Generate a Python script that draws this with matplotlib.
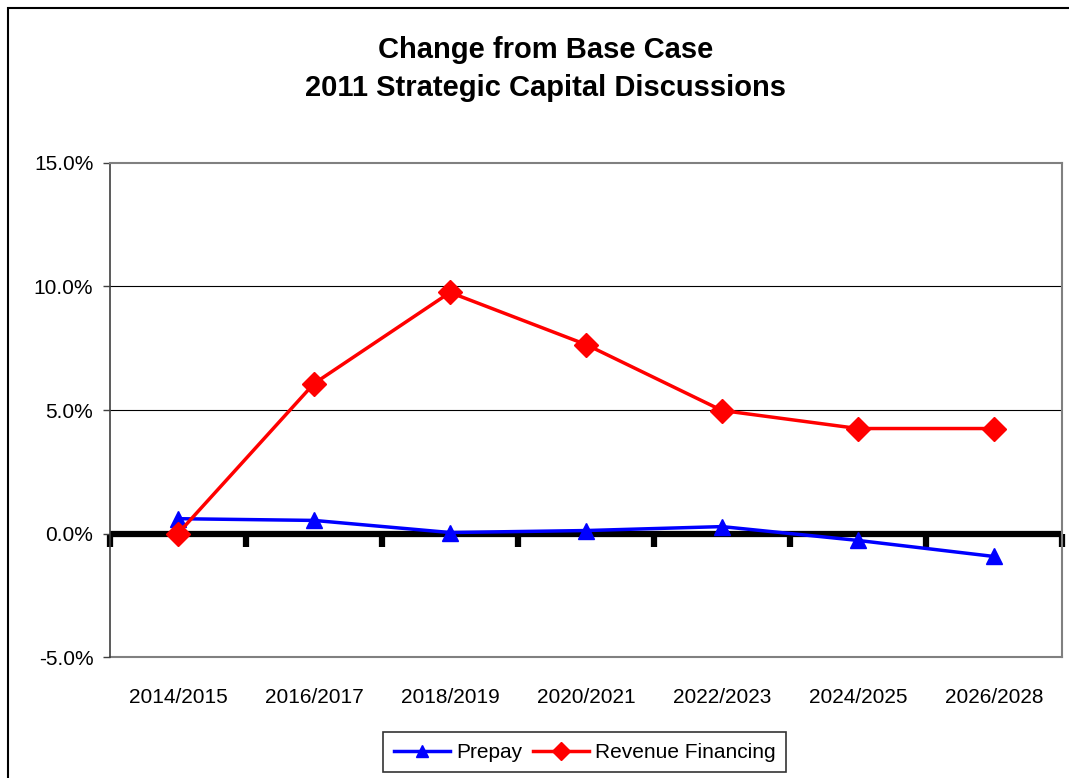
import matplotlib
matplotlib.use('Agg')
import matplotlib.pyplot as plt
from matplotlib.patches import Rectangle
from matplotlib.ticker import FuncFormatter

plt.rcParams['font.family'] = ['Liberation Sans', 'DejaVu Sans']

periodes = ['2014/2015', '2016/2017', '2018/2019', '2020/2021',
            '2022/2023', '2024/2025', '2026/2028']
prepay = [0.60, 0.53, 0.04, 0.12, 0.28, -0.28, -0.93]
revenue_financing = [0.0, 6.07, 9.76, 7.65, 4.98, 4.25, 4.25]

fig = plt.figure(figsize=(10.69, 7.78), dpi=100)
ax = fig.add_axes([0.1029, 0.1555, 0.8906, 0.635])

# cadre exterieur du graphique
fig.patches.append(Rectangle((0.0075, -0.1), 1.2, 1.0897, transform=fig.transFigure,
                             fill=False, edgecolor='black', linewidth=1.5))

x = list(range(len(periodes)))

for y in [5, 10]:
    ax.axhline(y, color='black', linewidth=0.8, zorder=1)
ax.axhline(0, color='black', linewidth=4.5, zorder=2)

ax.plot(x, prepay, color='#0000FF', linewidth=2.5, marker='^', markersize=11,
        label='Prepay', zorder=3)
ax.plot(x, revenue_financing, color='#FF0000', linewidth=2.5, marker='D', markersize=12,
        label='Revenue Financing', zorder=4)

ax.set_xlim(-0.5, len(periodes) - 0.5)
ax.set_ylim(-5, 15)
ax.set_yticks([-5, 0, 5, 10, 15])
ax.yaxis.set_major_formatter(FuncFormatter(lambda v, p: f'{v:.1f}%'))
ax.tick_params(axis='y', labelsize=15, length=5, width=1, direction='out', pad=7,
               colors='#404040', labelcolor='black')

# axe des x a zero avec graduations aux limites des categories
ax.spines['bottom'].set_position(('data', 0))
ax.spines['bottom'].set_visible(False)
ax.set_xticks([i - 0.5 for i in range(len(periodes) + 1)])
ax.set_xticklabels([])
ax.tick_params(axis='x', length=9, width=4.5, direction='out', colors='black')

sec = ax.secondary_xaxis(0)
sec.set_xticks(x)
sec.set_xticklabels(periodes)
sec.tick_params(length=0, labelsize=15, pad=22)
sec.spines['bottom'].set_color('#808080')
sec.spines['bottom'].set_linewidth(1.5)

ax.spines['top'].set_color('#808080')
ax.spines['top'].set_linewidth(1.5)
ax.spines['right'].set_color('#808080')
ax.spines['right'].set_linewidth(1.5)
ax.spines['left'].set_color('#404040')
ax.spines['left'].set_linewidth(1.2)

fig.text(0.51, 0.911, 'Change from Base Case\n2011 Strategic Capital Discussions',
         ha='center', va='center', fontsize=21, fontweight='bold', linespacing=1.45)

leg = fig.legend(loc='center', bbox_to_anchor=(0.547, 0.033), ncol=2, fontsize=15,
                 frameon=True, fancybox=False, edgecolor='black', handlelength=2.7,
                 columnspacing=0.5, handletextpad=0.3, borderpad=0.5, markerscale=0.75)
leg.get_frame().set_linewidth(1.2)

fig.savefig('out.png', dpi=100)
